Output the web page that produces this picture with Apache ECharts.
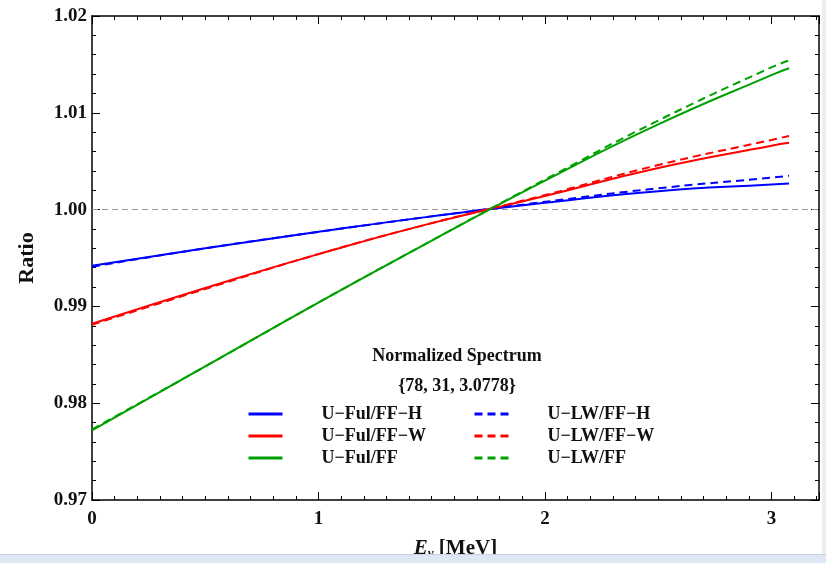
<!DOCTYPE html>
<html>
<head>
<meta charset="utf-8">
<script src="https://cdn.jsdelivr.net/npm/echarts@6/dist/echarts.min.js"></script>
<style>
html,body{margin:0;padding:0;background:#fff;}
#chart{width:826px;height:563px;}
</style>
</head>
<body>
<div id="chart"></div>
<script>
// ---- data ----
const energies   = [0, 0.5, 1.0, 1.5, 2.0, 2.5, 3.0, 3.0778];
const fulFFH     = [0.9942, 0.9960, 0.9977, 0.9993, 1.0007, 1.0019, 1.0026, 1.0027];
const fulFFW     = [0.9882, 0.9919, 0.9954, 0.9986, 1.0014, 1.0043, 1.0066, 1.0069];
const fulFF      = [0.9772, 0.9838, 0.9904, 0.9968, 1.0030, 1.0088, 1.0139, 1.0146];
const lwFFH      = [0.9941, 0.9960, 0.9977, 0.9993, 1.0008, 1.0022, 1.0033, 1.0035];
const lwFFW      = [0.9881, 0.9918, 0.9954, 0.9986, 1.0015, 1.0046, 1.0072, 1.0076];
const lwFF       = [0.9773, 0.9838, 0.9904, 0.9968, 1.0031, 1.0092, 1.0147, 1.0154];
const seriesNames = ['U\u2212Ful/FF\u2212H','U\u2212Ful/FF\u2212W','U\u2212Ful/FF','U\u2212LW/FF\u2212H','U\u2212LW/FF\u2212W','U\u2212LW/FF'];
const yTicks = [0.97, 0.98, 0.99, 1.00, 1.01, 1.02];
const xTicks = [0, 1, 2, 3];
const titleLine1 = 'Normalized Spectrum';
const titleLine2 = '{78, 31, 3.0778}';

const FONT = '"Liberation Serif", "DejaVu Serif", serif';
const pair = arr => energies.map((e, i) => [e, arr[i]]);
const colors = ['#0000ff', '#ff0000', '#00a000'];

function mk(name, data, color, dashed, withRef) {
  const s = {
    name, type: 'line', data: pair(data), smooth: true, symbol: 'none',
    lineStyle: { color, width: 2, type: dashed ? [8, 5] : 'solid' },
    itemStyle: { color }, z: dashed ? 4 : 3
  };
  if (withRef) {
    s.markLine = {
      silent: true, symbol: 'none', label: { show: false },
      lineStyle: { color: '#999', type: [6, 4], width: 1 },
      data: [{ yAxis: 1.0 }], z: 1
    };
  }
  return s;
}

const legendBase = {
  orient: 'vertical', top: 404, itemWidth: 34, itemHeight: 14, itemGap: 2, padding: 0,
  itemStyle: { opacity: 0, borderWidth: 0 },
  lineStyle: { width: 3, opacity: 1 },
  textStyle: { fontFamily: FONT, fontWeight: 'bold', fontSize: 18, lineHeight: 20, color: '#111', padding: [0, 0, 0, 34] }
};

const axisLineStyle = { color: '#000', width: 1.5 };
const chart = echarts.init(document.getElementById('chart'), null, { renderer: 'canvas' });
chart.setOption({
  backgroundColor: '#fff',
  animation: false,
  grid: { left: 92, right: 7, top: 16, bottom: 63, containLabel: false, outerBoundsMode: 'none' },
  title: [
    { text: titleLine1, left: 457, top: 347, textAlign: 'center',
      textStyle: { fontFamily: FONT, fontWeight: 'bold', fontSize: 18, color: '#111' }, padding: 0 },
    { text: titleLine2, left: 457, top: 377, textAlign: 'center',
      textStyle: { fontFamily: FONT, fontWeight: 'bold', fontSize: 18, color: '#111' }, padding: 0 }
  ],
  legend: [
    Object.assign({}, legendBase, { data: seriesNames.slice(0, 3), left: 247 }),
    Object.assign({}, legendBase, { data: seriesNames.slice(3), left: 473 })
  ],
  xAxis: [
    { type: 'value', min: 0, max: 3.21, interval: 1, position: 'bottom',
      name: '{e|E}{s|\u03BD} [MeV]', nameLocation: 'middle', nameGap: 38,
      nameTextStyle: { fontFamily: FONT, fontWeight: 'bold', fontSize: 21, color: '#111',
        rich: { e: { fontFamily: FONT, fontStyle: 'italic', fontWeight: 'bold', fontSize: 21, color: '#111' },
                s: { fontFamily: FONT, fontStyle: 'italic', fontWeight: 'bold', fontSize: 13, color: '#111', padding: [9, 0, 0, 0] } } },
      axisLine: { show: true, onZero: false, lineStyle: axisLineStyle },
      axisTick: { show: true, inside: true, length: 8, lineStyle: { color: '#000', width: 1 } },
      minorTick: { show: true, splitNumber: 10, length: 4, lineStyle: { color: '#000', width: 1 } },
      axisLabel: { show: true, margin: 10, showMaxLabel: false, fontFamily: FONT, fontWeight: 'bold', fontSize: 19, color: '#111',
        formatter: v => xTicks.includes(Math.round(v * 1000) / 1000) ? String(v) : '' },
      splitLine: { show: false } },
    { type: 'value', min: 0, max: 3.21, interval: 1, position: 'top',
      axisLine: { show: true, onZero: false, lineStyle: axisLineStyle },
      axisTick: { show: true, inside: true, length: 8, lineStyle: { color: '#000', width: 1 } },
      minorTick: { show: true, splitNumber: 10, length: 4, lineStyle: { color: '#000', width: 1 } },
      axisLabel: { show: false }, splitLine: { show: false } }
  ],
  yAxis: [
    { type: 'value', min: 0.97, max: 1.02, interval: 0.01, position: 'left',
      name: 'Ratio', nameLocation: 'middle', nameGap: 54, nameRotate: 90,
      nameTextStyle: { fontFamily: FONT, fontWeight: 'bold', fontSize: 22, color: '#111' },
      axisLine: { show: true, onZero: false, lineStyle: axisLineStyle },
      axisTick: { show: true, inside: true, length: 8, lineStyle: { color: '#000', width: 1 } },
      minorTick: { show: true, splitNumber: 5, length: 4, lineStyle: { color: '#000', width: 1 } },
      axisLabel: { margin: 5, fontFamily: FONT, fontWeight: 'bold', fontSize: 19, color: '#111',
        formatter: v => v.toFixed(2) },
      splitLine: { show: false } },
    { type: 'value', min: 0.97, max: 1.02, interval: 0.01, position: 'right',
      axisLine: { show: true, onZero: false, lineStyle: axisLineStyle },
      axisTick: { show: true, inside: true, length: 8, lineStyle: { color: '#000', width: 1 } },
      minorTick: { show: true, splitNumber: 5, length: 4, lineStyle: { color: '#000', width: 1 } },
      axisLabel: { show: false }, splitLine: { show: false } }
  ],
  graphic: [
    { type: 'rect', left: 0, top: 554, shape: { width: 826, height: 9 }, style: { fill: '#dfe7f5' }, z: 100 },
    { type: 'rect', left: 0, top: 554, shape: { width: 826, height: 1 }, style: { fill: '#c5d2ea' }, z: 101 },
    { type: 'rect', left: 822, top: 0, shape: { width: 4, height: 554 }, style: { fill: '#eeeeee' }, z: 100 }
  ],
  series: [
    mk(seriesNames[0], fulFFH, colors[0], false, true),
    mk(seriesNames[1], fulFFW, colors[1], false, false),
    mk(seriesNames[2], fulFF,  colors[2], false, false),
    mk(seriesNames[3], lwFFH,  colors[0], true, false),
    mk(seriesNames[4], lwFFW,  colors[1], true, false),
    mk(seriesNames[5], lwFF,   colors[2], true, false)
  ]
});
</script>
</body>
</html>
